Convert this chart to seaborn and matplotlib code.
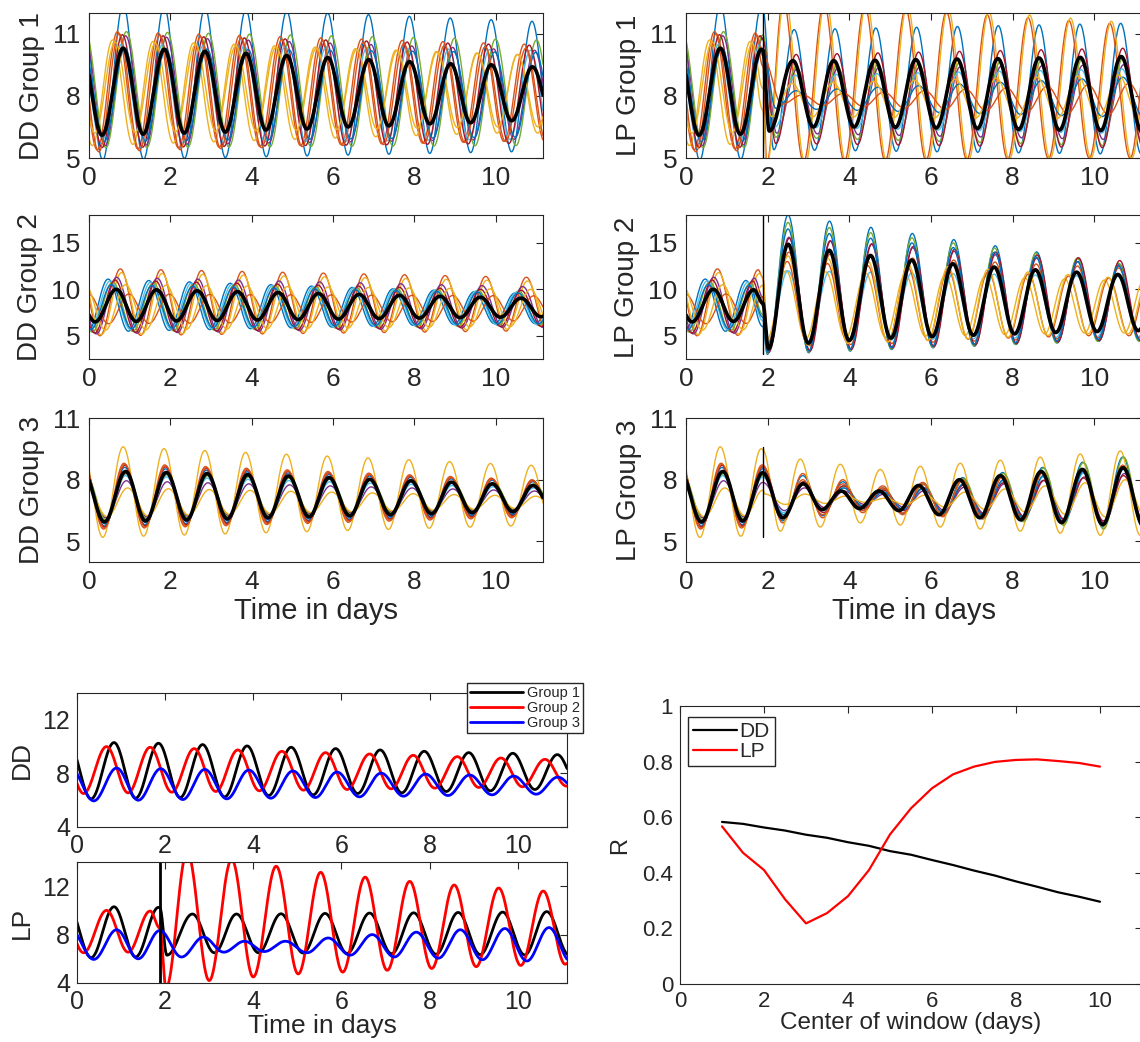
import numpy as np
import matplotlib
matplotlib.use("Agg")
import matplotlib.pyplot as plt
import seaborn as sns

W, H = 1140, 1042
T_END = 11.16          # last time point shown (days)
PULSE = 1.88           # time of the light pulse (days)

# MATLAB default colour order used for the individual cells
cell_colors = ['#0072BD', '#D95319', '#EDB120', '#7E2F8E', '#77AC30',
               '#4DBEEE', '#A2142F', '#0072BD', '#D95319', '#EDB120']

# ---------------- group means: alternating extrema (day, level) ----------------
dd1_mean_t = [-0.20, 0.32, 0.84, 1.33, 1.85, 2.34, 2.85, 3.35, 3.86, 4.35, 4.86, 5.36,
              5.87, 6.37, 6.88, 7.37, 7.88, 8.38, 8.89, 9.38, 9.89, 10.39, 10.90, 11.40]
dd1_mean_v = [10.40, 6.10, 10.30, 6.15, 10.25, 6.20, 10.15, 6.25, 10.05, 6.35, 9.95, 6.40,
              9.85, 6.50, 9.75, 6.55, 9.65, 6.65, 9.55, 6.70, 9.50, 6.80, 9.40, 6.85]

dd2_mean_t = [-0.33, 0.15, 0.67, 1.16, 1.66, 2.15, 2.66, 3.15, 3.65, 4.14, 4.65, 5.14,
              5.64, 6.13, 6.64, 7.13, 7.63, 8.12, 8.63, 9.12, 9.62, 10.11, 10.62, 11.11, 11.62]
dd2_mean_v = [9.90, 6.50, 10.00, 6.55, 9.95, 6.60, 9.85, 6.65, 9.75, 6.70, 9.65, 6.75,
              9.55, 6.80, 9.45, 6.85, 9.35, 6.90, 9.25, 6.95, 9.15, 7.00, 9.05, 7.05, 9.00]

dd3_mean_t = [-0.15, 0.38, 0.90, 1.39, 1.90, 2.40, 2.90, 3.40, 3.90, 4.40, 4.90, 5.41,
              5.90, 6.41, 6.90, 7.41, 7.91, 8.42, 8.91, 9.42, 9.91, 10.42, 10.91, 11.42]
dd3_mean_v = [8.45, 5.95, 8.40, 6.00, 8.35, 6.05, 8.30, 6.10, 8.25, 6.15, 8.18, 6.20,
              8.10, 6.25, 8.02, 6.30, 7.95, 6.35, 7.88, 6.40, 7.80, 6.45, 7.72, 6.50]

# after the pulse (LP condition)
lp1_mean_t = [2.04, 2.62, 3.12, 3.62, 4.12, 4.63, 5.13, 5.63, 6.13, 6.64, 7.14, 7.64,
              8.15, 8.65, 9.15, 9.66, 10.16, 10.66, 11.17]
lp1_mean_v = [6.30, 9.70, 6.50, 9.70, 6.50, 9.72, 6.48, 9.75, 6.45, 9.78, 6.42, 9.80,
              6.38, 9.83, 6.35, 9.86, 6.32, 9.90, 6.30]

lp2_mean_t = [2.02, 2.50, 3.00, 3.51, 4.00, 4.52, 5.02, 5.53, 6.03, 6.54, 7.04, 7.55,
              8.05, 8.56, 9.06, 9.57, 10.07, 10.58, 11.08, 11.60]
lp2_mean_v = [3.60, 14.85, 4.20, 14.20, 4.50, 13.65, 4.75, 13.15, 4.90, 12.75, 5.05, 12.40,
              5.20, 12.10, 5.35, 11.85, 5.45, 11.60, 5.55, 11.40]

lp3_mean_t = [2.37, 2.87, 3.33, 3.80, 4.25, 4.73, 5.22, 5.70, 6.20, 6.70, 7.20, 7.70,
              8.20, 8.70, 9.20, 9.71, 10.21, 10.71, 11.21]
lp3_mean_v = [6.15, 7.80, 6.55, 7.45, 6.60, 7.45, 6.50, 7.72, 6.30, 8.00, 6.15, 8.20,
              6.05, 8.40, 5.92, 8.50, 5.82, 8.58, 5.75]

# ---------------- individual cells ----------------
# first peak (day), period (days), peak levels and trough levels at the anchor cycles
dd1_peak0 = [0.84, 0.70, 0.58, 0.90, 0.92, 0.80, 0.82, 0.88, 0.74, 0.64]
dd1_period = [1.005, 1.000, 0.995, 1.005, 1.008, 1.005, 1.000, 1.010, 1.000, 0.990]
dd1_hi = [(12.4, 11.6), (11.1, 10.5), (10.7, 10.0), (10.9, 10.2), (11.1, 10.7),
          (10.5, 10.2), (10.95, 10.45), (10.3, 10.1), (11.0, 10.3), (10.6, 10.0)]
dd1_lo = [(4.9, 5.3), (5.4, 5.8), (5.6, 6.2), (5.6, 5.9), (5.5, 5.6),
          (5.7, 5.9), (5.5, 5.7), (5.8, 6.0), (5.3, 5.8), (6.2, 6.5)]

dd2_peak0 = [0.47, 0.77, 0.80, 0.68, 0.58, 0.52, 0.64, 0.55, 0.98, 0.90]
dd2_period = [1.000, 0.998, 0.998, 0.998, 0.998, 1.000, 0.998, 1.000, 0.995, 0.995]
dd2_hi = [(11.1, 9.6), (12.2, 11.3), (11.8, 10.9), (11.3, 10.3), (10.8, 9.8),
          (10.9, 9.7), (11.0, 9.9), (10.5, 9.6), (9.5, 9.3), (10.5, 10.0)]
dd2_lo = [(5.4, 6.3), (5.0, 5.5), (5.1, 5.7), (5.2, 5.9), (5.4, 6.1),
          (5.6, 6.2), (5.3, 6.0), (5.7, 6.3), (6.3, 6.6), (5.6, 6.0)]

dd3_peak0 = [0.88, 0.86, 0.84, 0.92, 0.92, 0.90, 0.88, 0.90, 0.88, 0.95]
dd3_period = [1.003] * 10
dd3_hi = [(8.6, 7.9), (8.8, 8.0), (9.6, 8.7), (7.95, 7.45), (8.3, 7.8),
          (8.2, 7.6), (8.7, 7.95), (8.4, 7.7), (8.75, 7.95), (7.6, 7.2)]
dd3_lo = [(5.75, 6.3), (5.6, 6.15), (5.2, 5.75), (6.15, 6.55), (6.05, 6.5),
          (5.95, 6.4), (5.7, 6.25), (5.85, 6.35), (5.65, 6.2), (6.2, 6.6)]

lp1_peak0 = [2.65, 2.38, 2.42, 2.72, 2.70, 2.68, 2.70, 2.70, 2.85, 2.60]
lp1_period = [1.0] * 10
lp1_hi = [(11.2, 11.5), (12.6, 11.5), (12.8, 11.6), (9.3, 9.5), (9.4, 9.8),
          (9.0, 9.3), (10.0, 10.3), (8.25, 8.9), (8.05, 8.6), (8.6, 9.0)]
lp1_lo = [(5.4, 5.2), (4.8, 5.0), (4.7, 5.0), (6.2, 5.9), (6.0, 5.6),
          (6.5, 6.2), (5.7, 5.5), (7.4, 7.0), (7.6, 7.1), (7.0, 6.9)]

lp2_peak0 = [2.50, 2.52, 2.45, 2.52, 2.50, 2.50, 2.53, 2.50, 2.48, 2.50]
lp2_period = [1.015, 1.010, 0.975, 1.012, 1.012, 1.010, 1.012, 1.012, 0.985, 0.980]
lp2_hi = [(18.0, 12.7), (14.0, 12.3), (12.0, 11.0), (15.6, 12.6), (17.2, 12.8),
          (12.0, 11.4), (15.5, 13.1), (16.5, 12.5), (13.0, 11.2), (13.6, 11.3)]
lp2_lo = [(3.0, 4.4), (3.8, 4.8), (4.6, 5.3), (3.3, 4.5), (3.1, 4.4),
          (4.3, 4.9), (3.2, 4.5), (3.2, 4.6), (4.0, 5.0), (3.8, 5.2)]

lp3_peak0 = [2.86, 2.86, 2.80, 2.90, 2.88, 2.88, 2.88, 2.88, 2.86, 2.92]
lp3_period = [0.98] * 10
lp3_hi = [(8.2, 7.6, 9.1), (8.3, 7.7, 8.7), (9.0, 8.5, 9.4), (7.6, 7.3, 8.3), (7.9, 7.5, 9.1),
          (7.8, 7.4, 8.5), (7.9, 7.5, 8.2), (7.8, 7.4, 8.6), (8.0, 7.6, 8.7), (7.3, 7.1, 8.0)]
lp3_lo = [(6.0, 6.5, 5.7), (5.9, 6.4, 5.8), (5.5, 5.9, 5.3), (6.5, 6.8, 5.9), (6.3, 6.7, 5.6),
          (6.4, 6.7, 5.8), (6.2, 6.6, 6.0), (6.3, 6.7, 5.8), (6.1, 6.5, 5.8), (6.8, 6.9, 6.2)]

# ---------------- synchrony index ----------------
window_center = [1.0, 1.5, 2.0, 2.5, 3.0, 3.5, 4.0, 4.5, 5.0, 5.5,
                 6.0, 6.5, 7.0, 7.5, 8.0, 8.5, 9.0, 9.5, 10.0]
r_dd = [0.583, 0.576, 0.563, 0.552, 0.537, 0.526, 0.510, 0.497, 0.478, 0.465,
        0.446, 0.428, 0.408, 0.390, 0.369, 0.350, 0.330, 0.314, 0.296]
r_lp = [0.567, 0.472, 0.410, 0.305, 0.218, 0.255, 0.316, 0.410, 0.538, 0.632,
        0.704, 0.754, 0.782, 0.799, 0.806, 0.808, 0.802, 0.795, 0.782]

time_ticks = [0, 2, 4, 6, 8, 10]
t = np.linspace(0.0, T_END, 1400)


def path(kt, kv, x):
    """Smooth half-cosine path through alternating extrema."""
    kt = np.asarray(kt, float)
    kv = np.asarray(kv, float)
    i = np.clip(np.searchsorted(kt, x, side='right') - 1, 0, len(kt) - 2)
    s = np.clip((x - kt[i]) / (kt[i + 1] - kt[i]), 0.0, 1.0)
    return kv[i] + (kv[i + 1] - kv[i]) * (1 - np.cos(np.pi * s)) / 2


def cell_knots(peak0, period, hi, lo, t_min, first_trough_min=None):
    k = np.arange(-3, 16)
    anchors = [0, 10] if len(hi) == 2 else [0, 2, 8]
    if t_min > 0 and len(hi) == 2:
        anchors = [0, 8]
    pk_t = peak0 + k * period
    tr_t = pk_t - period / 2
    if first_trough_min is not None:
        tr_t = np.where(k == 0, np.maximum(tr_t, first_trough_min), tr_t)
    pk_v = np.interp(k, anchors, hi)
    tr_v = np.interp(k, anchors, lo)
    kt = np.column_stack([tr_t, pk_t]).ravel()
    kv = np.column_stack([tr_v, pk_v]).ravel()
    keep = (kt > t_min) & (kt < T_END + 1.6)
    return kt[keep], kv[keep]


def with_pulse(pre_t, pre_v, post_t, post_v):
    pre_t = np.asarray(pre_t, float)
    pre_v = np.asarray(pre_v, float)
    keep = pre_t < PULSE - 0.01
    at_pulse = path(pre_t, pre_v, PULSE)
    kt = np.concatenate([pre_t[keep], [PULSE], post_t])
    kv = np.concatenate([pre_v[keep], [at_pulse], post_v])
    return kt, kv


def cells(peak0, period, hi, lo):
    return [cell_knots(p, q, h, l, -1.6) for p, q, h, l in zip(peak0, period, hi, lo)]


def lp_cells(dd, peak0, period, hi, lo):
    out = []
    for (pt, pv), p, q, h, l in zip(dd, peak0, period, hi, lo):
        qt, qv = cell_knots(p, q, h, l, PULSE + 0.05, first_trough_min=PULSE + 0.1)
        out.append(with_pulse(pt, pv, qt, qv))
    return out


dd_cells = [cells(dd1_peak0, dd1_period, dd1_hi, dd1_lo),
            cells(dd2_peak0, dd2_period, dd2_hi, dd2_lo),
            cells(dd3_peak0, dd3_period, dd3_hi, dd3_lo)]
lp_cells_all = [lp_cells(dd_cells[0], lp1_peak0, lp1_period, lp1_hi, lp1_lo),
                lp_cells(dd_cells[1], lp2_peak0, lp2_period, lp2_hi, lp2_lo),
                lp_cells(dd_cells[2], lp3_peak0, lp3_period, lp3_hi, lp3_lo)]
dd_means = [(dd1_mean_t, dd1_mean_v), (dd2_mean_t, dd2_mean_v), (dd3_mean_t, dd3_mean_v)]
lp_means = [with_pulse(dd1_mean_t, dd1_mean_v, lp1_mean_t, lp1_mean_v),
            with_pulse(dd2_mean_t, dd2_mean_v, lp2_mean_t, lp2_mean_v),
            with_pulse(dd3_mean_t, dd3_mean_v, lp3_mean_t, lp3_mean_v)]

# ---------------- figure ----------------
sns.set_theme(style='white')
plt.rcParams['font.family'] = ['Liberation Sans', 'DejaVu Sans']
INK = '#262626'
plt.rcParams['text.color'] = INK
plt.rcParams['axes.labelcolor'] = INK

fig = plt.figure(figsize=(W / 100, H / 100), dpi=100)
fig.patch.set_facecolor('white')


def add_ax(x0, y0, x1, y1):
    return fig.add_axes([x0 / W, 1 - y1 / H, (x1 - x0) / W, (y1 - y0) / H])


def style(ax, xlim, ylim, yticks, fs, pad=6):
    ax.set_xlim(*xlim)
    ax.set_ylim(*ylim)
    ax.set_xticks(time_ticks)
    ax.set_yticks(yticks)
    ax.set_facecolor('white')
    ax.tick_params(direction='in', top=True, right=True, length=5, width=0.8,
                   labelsize=fs, colors=INK, pad=pad)
    for s in ax.spines.values():
        s.set_linewidth(0.8)
        s.set_color(INK)
    ax.grid(False)


rows = [(13, 158), (215, 359), (418, 562)]
ylims = [(5, 12), (2.5, 18), (4, 11)]
yticks = [[5, 8, 11], [5, 10, 15], [5, 8, 11]]

for g in range(3):
    y0, y1 = rows[g]
    for side, x0, x1 in (('DD', 89, 543), ('LP', 686, 1141.5)):
        ax = add_ax(x0, y0, x1, y1)
        group = dd_cells[g] if side == 'DD' else lp_cells_all[g]
        levels = []
        for (kt, kv), c in zip(group, cell_colors):
            y = path(kt, kv, t)
            levels.append(y)
            sns.lineplot(x=t, y=y, color=c, lw=1.0, ax=ax, legend=False)
        mt, mv = dd_means[g] if side == 'DD' else lp_means[g]
        sns.lineplot(x=t, y=path(mt, mv, t), color='black', lw=2.6, ax=ax, legend=False)
        if side == 'LP':
            allv = np.concatenate(levels)
            ax.plot([PULSE, PULSE], [allv.min(), allv.max()], color='black', lw=1.0)
        style(ax, (0, T_END), ylims[g], yticks[g], 19)
        ax.set_ylabel(f'{side} Group {g + 1}', fontsize=20, labelpad=6)
        if g == 2:
            ax.set_xlabel('Time in days', fontsize=21, labelpad=2)
        else:
            ax.set_xlabel('')

# ---------------- group means, bottom left ----------------
group_colors = ['black', '#FF0000', '#0000FF']
ax_dd = add_ax(77, 693, 567, 827)
for g in range(3):
    mt, mv = dd_means[g]
    sns.lineplot(x=t, y=path(mt, mv, t), color=group_colors[g], lw=2.0, ax=ax_dd,
                 label=f'Group {g + 1}')
style(ax_dd, (0, 11.12), (4, 14), [4, 8, 12], 18, pad=5)
ax_dd.set_ylabel('DD', fontsize=19, labelpad=6)
ax_dd.set_xlabel('')
ax_dd.legend(loc='upper right', bbox_to_anchor=(583 / W, 1 - 683 / H),
             bbox_transform=fig.transFigure, fontsize=10.5, frameon=True, fancybox=False,
             edgecolor=INK, framealpha=1, borderpad=0.2, handlelength=3.6,
             labelspacing=0.08, borderaxespad=0, handletextpad=0.3)

ax_lp = add_ax(77, 862, 567, 983)
for g in range(3):
    mt, mv = lp_means[g]
    sns.lineplot(x=t, y=path(mt, mv, t), color=group_colors[g], lw=2.0, ax=ax_lp,
                 legend=False)
ax_lp.plot([PULSE, PULSE], [3.0, 15.0], color='black', lw=2.0)
style(ax_lp, (0, 11.12), (4, 14), [4, 8, 12], 18, pad=5)
ax_lp.set_ylabel('LP', fontsize=19, labelpad=6)
ax_lp.set_xlabel('Time in days', fontsize=19, labelpad=0)

# ---------------- synchrony index, bottom right ----------------
ax_r = add_ax(680, 706, 1142, 984)
sns.lineplot(x=window_center, y=r_dd, color='black', lw=1.6, ax=ax_r, label='DD')
sns.lineplot(x=window_center, y=r_lp, color='#FF0000', lw=1.6, ax=ax_r, label='LP')
ax_r.set_xlim(0, 11)
ax_r.set_ylim(0, 1)
ax_r.set_xticks([0, 2, 4, 6, 8, 10])
ax_r.set_yticks([0, 0.2, 0.4, 0.6, 0.8, 1.0])
ax_r.set_yticklabels(['0', '0.2', '0.4', '0.6', '0.8', '1'])
ax_r.tick_params(direction='in', top=True, right=True, length=5, width=0.8,
                 labelsize=16, colors=INK, pad=5)
for s in ax_r.spines.values():
    s.set_linewidth(0.8)
    s.set_color(INK)
ax_r.set_xlabel('Center of window (days)', fontsize=17.5, labelpad=0)
ax_r.set_ylabel('R', fontsize=17, labelpad=8)
ax_r.legend(loc='upper left', bbox_to_anchor=(688 / W, 1 - 717 / H),
            bbox_transform=fig.transFigure, fontsize=15, frameon=True, fancybox=False,
            edgecolor=INK, framealpha=1, borderpad=0.25, handlelength=2.1,
            labelspacing=0.05, borderaxespad=0, handletextpad=0.1)

fig.savefig('out.png', dpi=100, facecolor='white')
